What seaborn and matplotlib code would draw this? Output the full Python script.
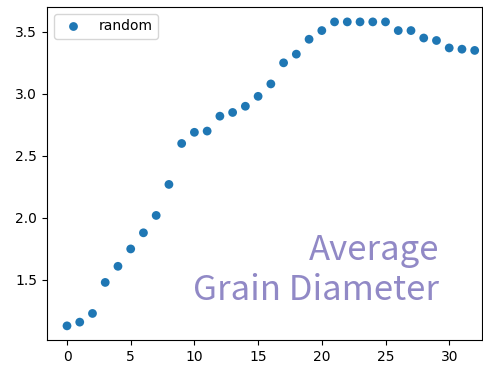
import matplotlib
matplotlib.use("Agg")
import matplotlib.pyplot as plt
import seaborn as sns
import pandas as pd

x_vals = list(range(33))
y_vals = [1.13, 1.16, 1.23, 1.48, 1.61, 1.75, 1.88, 2.02, 2.27, 2.60,
          2.69, 2.70, 2.82, 2.85, 2.90, 2.98, 3.08, 3.25, 3.32, 3.44,
          3.51, 3.58, 3.58, 3.58, 3.58, 3.58, 3.51, 3.51, 3.45, 3.43,
          3.37, 3.36, 3.35]
series_label = "random"
title_text = "Average\nGrain Diameter"

df = pd.DataFrame({"x": x_vals, "y": y_vals, "series": series_label})

fig = plt.figure(figsize=(4.83, 3.66), dpi=100)
ax = fig.add_axes([47/483, 26/366, (481.7-47)/483, (340-7)/366])
sns.scatterplot(data=df, x="x", y="y", hue="series", palette=["#1f77b4"],
                s=40, linewidth=0, ax=ax)
ax.set_xlim(-1.57, 32.55)
ax.set_ylim(1.016, 3.70)
ax.set_xlabel("")
ax.set_ylabel("")
ax.legend(loc="upper left")
ax.text(29.2, 1.335, title_text, ha="right", va="baseline", multialignment="right",
        fontsize=25, color="#9189C6", family=["Noto Sans CJK JP", "DejaVu Sans"],
        linespacing=1.2)
fig.savefig("out.png", dpi=100)
